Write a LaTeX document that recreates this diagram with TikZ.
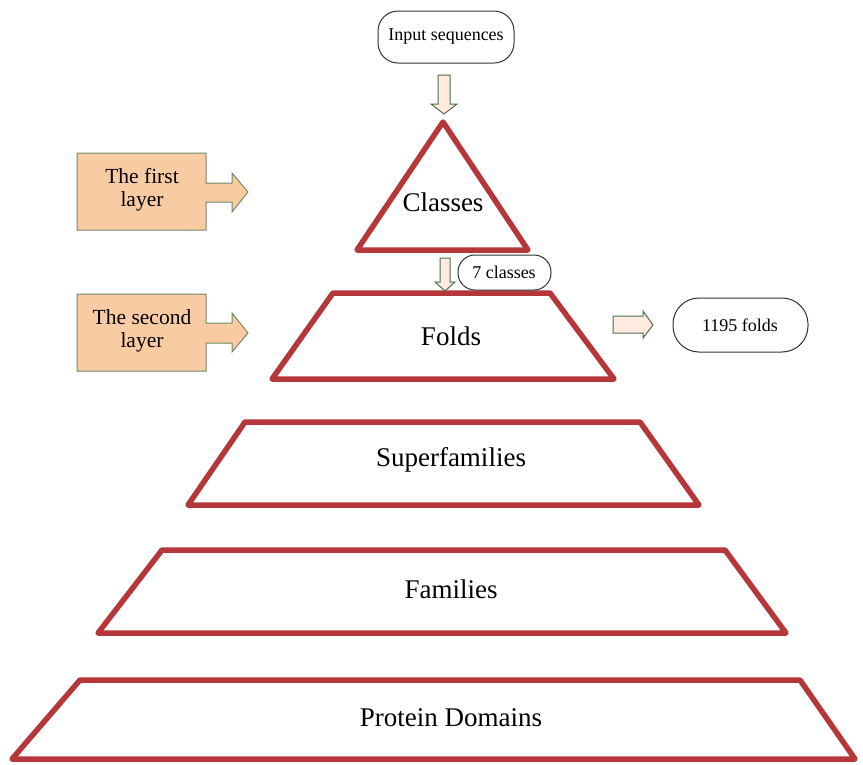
\documentclass[tikz,border=0pt]{standalone}
\usepackage{fontspec}
\setmainfont{Liberation Serif}
\definecolor{pyr}{HTML}{B5373A}
\definecolor{peach}{HTML}{F9CBA3}
\definecolor{boxedge}{HTML}{6E8A66}
\definecolor{arrfill}{HTML}{FDEBE0}
\definecolor{arredge}{HTML}{4E6E4E}
\tikzset{
  level/.style={draw=pyr,line width=5.5pt,line join=round},
  big/.style={font=\fontsize{27}{30}\selectfont},
  mid/.style={font=\fontsize{21.5}{23}\selectfont,align=center},
  small/.style={font=\fontsize{18}{20}\selectfont},
  pill/.style={draw=black!80,line width=1pt,rounded corners=20pt,fill=white},
  blockarrow/.style={draw=arredge,fill=arrfill,line width=1pt},
  layerbox/.style={draw=boxedge,fill=peach,line width=1pt}
}
\begin{document}
\begin{tikzpicture}[x=1pt,y=-1pt]
\useasboundingbox (0,0) rectangle (863,764);
% pyramid levels
\draw[level] (443,122) -- (528,250) -- (357,250) -- cycle;
\draw[level] (333,293) -- (550,293) -- (614,379) -- (272,379) -- cycle;
\draw[level] (245,422) -- (640,422) -- (699,505) -- (188,505) -- cycle;
\draw[level] (162,550) -- (725,550) -- (786,633) -- (98,633) -- cycle;
\draw[level] (80,680) -- (800,680) -- (855,759) -- (12,759) -- cycle;
\node[big] (classes) at (443,202) {Classes};
\node[big] (folds) at (451,336) {Folds};
\node[big] (superfam) at (451,460) {Superfamilies};
\node[big] (families) at (451,589) {Families};
\node[big] (domains) at (451,718) {Protein Domains};
% input sequences
\draw[pill] (378,11) rectangle (514,63);
\node[small] (input) at (446,37) {Input sequences};
\draw[blockarrow] (438,75) -- (450,75) -- (450,104) -- (457,104) -- (444,114) -- (431,104) -- (438,104) -- cycle;
% 7 classes
\draw[blockarrow] (440,258) -- (450,258) -- (450,282) -- (455,282) -- (445,291) -- (435,282) -- (440,282) -- cycle;
\draw[pill,rounded corners=17pt] (458,255) rectangle (551,290);
\node[small] (seven) at (504,272) {7 classes};
% first layer
\draw[layerbox] (77,153) -- (206,153) -- (206,183) -- (232,183) -- (232,173) -- (248,192) -- (232,212) -- (232,202) -- (206,202) -- (206,230) -- (77,230) -- cycle;
\node[mid] (first) at (142,190) {The first\\layer};
% second layer
\draw[layerbox] (77,294) -- (206,294) -- (206,323) -- (232,323) -- (232,313) -- (248,333) -- (232,352) -- (232,343) -- (206,343) -- (206,371) -- (77,371) -- cycle;
\node[mid] (second) at (142,331) {The second\\layer};
% 1195 folds
\draw[blockarrow] (613,316) -- (643,316) -- (643,311) -- (653,325) -- (643,338) -- (643,333) -- (613,333) -- cycle;
\draw[pill,rounded corners=26pt] (673,298) rectangle (808,352);
\node[small] (nfolds) at (740,325) {1195 folds};
\end{tikzpicture}
\end{document}
